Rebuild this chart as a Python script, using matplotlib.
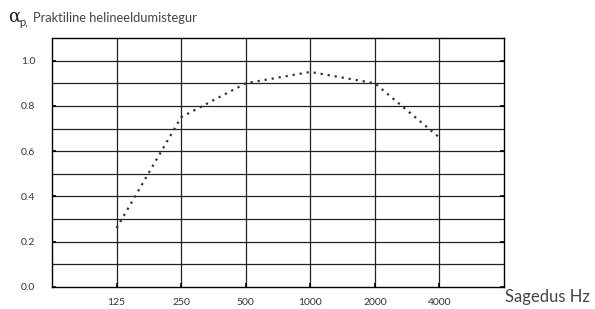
import numpy as np
from matplotlib import pyplot as plt

freqs = ['125', '250', '500', '1000', '2000', '4000']
alpha_p = [0.26, 0.75, 0.90, 0.95, 0.90, 0.66]
yticks = [0.0, 0.2, 0.4, 0.6, 0.8, 1.0]

plt.rcParams['font.family'] = ['Lato', 'DejaVu Sans']

fig = plt.figure(figsize=(5.95, 3.09), dpi=100)
ax = fig.add_axes([52/595, 22/309, 452/595, 249/309])

x = np.arange(1, len(freqs) + 1)
ax.plot(x, alpha_p, linestyle=(0, (1, 2.2)), color='#333333', lw=1.6)

ax.set_xlim(0, 7)
ax.set_ylim(0, 1.1)
ax.set_xticks(x)
ax.set_xticklabels(freqs, fontsize=7.5, color='#333333')
ax.set_yticks(yticks)
ax.set_yticklabels(['%.1f' % v for v in yticks], fontsize=7.5, color='#333333')

# grid: every 0.1 horizontally, each frequency vertically
for v in np.arange(0.1, 1.1, 0.1):
    ax.axhline(v, color='#222222', lw=0.9, zorder=0)
for xi in x:
    ax.axvline(xi, color='#222222', lw=0.9, zorder=0)

ax.tick_params(direction='in', length=3, width=1.2, color='black', right=True)
ax.tick_params(axis='y', pad=12)
ax.tick_params(axis='x', pad=8)
for s in ax.spines.values():
    s.set_linewidth(1.0)

fig.text(8/595, 1 - 17/309, 'α', fontsize=13, va='center', color='#222222',
         family='DejaVu Serif')
fig.text(19/595, 1 - 22/309, 'p,', fontsize=8, va='center', color='#333333')
fig.text(33/595, 1 - 18/309, 'Praktiline helineeldumistegur', fontsize=9.3,
         va='center', color='#444444')
fig.text(505/595, 1 - 297/309, 'Sagedus Hz', fontsize=12, va='center', color='#444444')

fig.savefig('out.png', dpi=100)
